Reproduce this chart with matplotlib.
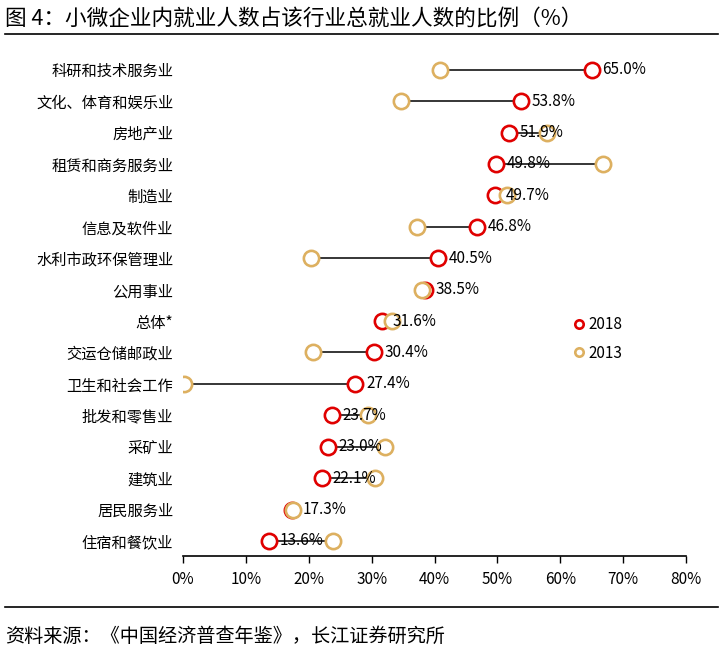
import matplotlib.pyplot as plt
from matplotlib.ticker import PercentFormatter

plt.rcParams['font.family'] = ['Noto Sans CJK SC', 'DejaVu Sans']

industries = ['科研和技术服务业', '文化、体育和娱乐业', '房地产业', '租赁和商务服务业', '制造业',
              '信息及软件业', '水利市政环保管理业', '公用事业', '总体*', '交运仓储邮政业',
              '卫生和社会工作', '批发和零售业', '采矿业', '建筑业', '居民服务业', '住宿和餐饮业']
v2018 = [65.0, 53.8, 51.9, 49.8, 49.7, 46.8, 40.5, 38.5, 31.6, 30.4, 27.4, 23.7, 23.0, 22.1, 17.3, 13.6]
v2013 = [40.9, 34.7, 57.9, 66.8, 51.5, 37.2, 20.3, 38.0, 33.3, 20.7, 0.2, 29.4, 32.2, 30.6, 17.5, 23.8]

red = '#E00000'
gold = '#DDB060'

fig = plt.figure(figsize=(7.23, 6.51), dpi=100)
ax = fig.add_axes([183/723, 1 - 556/651, 503/723, (556 - 54)/651])

ys = list(range(len(industries)))
for y, a, b in zip(ys, v2018, v2013):
    ax.plot([a, b], [y, y], color='black', lw=1.1, zorder=1)

ax.plot(v2018, ys, 'o', ms=11, mfc='white', mec=red, mew=1.9, ls='none', zorder=2, label='2018')
ax.plot(v2013, ys, 'o', ms=11, mfc='white', mec=gold, mew=1.9, ls='none', zorder=3, label='2013')

for y, a in zip(ys, v2018):
    ax.text(a + 1.7, y, f'{a:.1f}%', va='center', ha='left', fontsize=11, zorder=4)

ax.set_xlim(0, 80)
ax.set_ylim(15.48, -0.5)
ax.set_xticks(range(0, 81, 10))
ax.xaxis.set_major_formatter(PercentFormatter(decimals=0))
ax.set_yticks(ys)
ax.set_yticklabels(industries, fontsize=11)
ax.tick_params(axis='y', length=0, pad=7)
ax.tick_params(axis='x', length=5, width=1, labelsize=11, pad=6)
for s in ['top', 'right', 'left']:
    ax.spines[s].set_visible(False)
ax.spines['bottom'].set_linewidth(1.2)
ax.patch.set_alpha(0)

ax.legend(loc='upper left', bbox_to_anchor=(0.778, 0.478), frameon=False, markerscale=0.55,
          handlelength=0.6, handletextpad=0.3, labelspacing=0.75, fontsize=11,
          borderaxespad=0, borderpad=0)

fig.text(5/723, 1 - 19/651, '图 4：小微企业内就业人数占该行业总就业人数的比例（%）',
         fontsize=15.6, va='center', ha='left')
fig.add_artist(plt.Line2D([5/723, 718/723], [1 - 34/651, 1 - 34/651], color='black', lw=1.2))
fig.add_artist(plt.Line2D([5/723, 718/723], [1 - 607/651, 1 - 607/651], color='black', lw=1.2))
fig.text(5/723, 1 - 636/651, '资料来源：《中国经济普查年鉴》，长江证券研究所',
         fontsize=13.8, va='center', ha='left')

fig.savefig('out.png', dpi=100)
